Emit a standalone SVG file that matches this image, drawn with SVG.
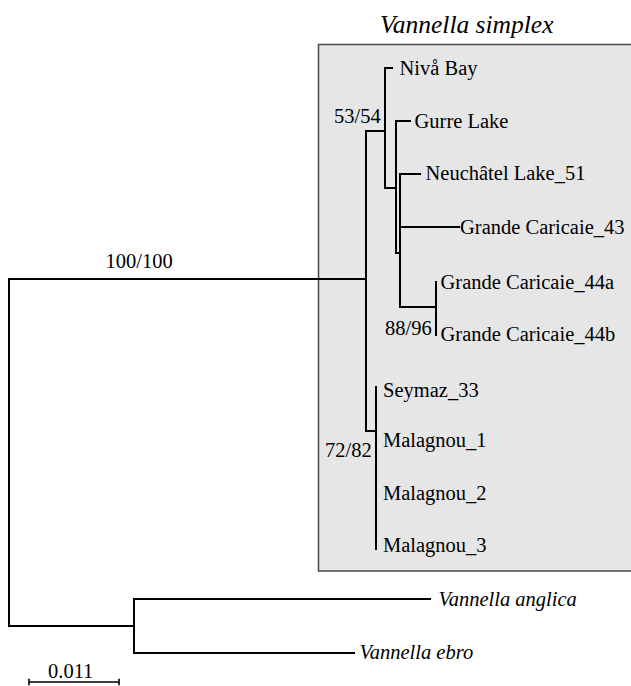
<svg xmlns="http://www.w3.org/2000/svg" width="631" height="686" viewBox="0 0 631 686">
<style>
.t{font-family:"Liberation Serif","Times New Roman",serif;font-size:20.5px;fill:#000}
.i{font-style:italic}
.e{stroke:#000;stroke-width:2;fill:none;stroke-linecap:square}
</style>
<rect width="631" height="686" fill="#fff"/>
<g id="clade-box">
<rect x="318.5" y="44.5" width="320" height="526.5" fill="#e6e6e6" stroke="#4a4a4a" stroke-width="1.5"/>
<text class="t i" x="380" y="33" style="font-size:25.5px">Vannella simplex</text>
</g>
<g id="connectors">
<path class="e" d="M366,279 H9 V626 H134"/>
<path class="e" d="M430,599 H134 V653 H354"/>
<path class="e" d="M384,131 H366 V431 H376"/>
<path class="e" d="M392,68 H385 V188 H396"/>
<path class="e" d="M410,121 H396 V253 H400"/>
<path class="e" d="M420,174 H400 V307 H436"/>
<path class="e" d="M400,227 H459"/>
<path class="e" d="M436,282 V335"/>
<path class="e" d="M376,387 V549"/>
<path class="e" d="M29,682 H119 M29,679.5 V684.5 M119,679.5 V684.5" style="stroke-width:1.6"/>
</g>
<g id="support-labels">
<text class="t" x="105.5" y="268">100/100</text>
<text class="t" x="334" y="123">53/54</text>
<text class="t" x="385" y="335">88/96</text>
<text class="t" x="325" y="457">72/82</text>
</g>
<g id="leaf-niva"><text class="t" x="399.5" y="75">Nivå Bay</text></g>
<g id="leaf-gurre"><text class="t" x="414.5" y="127.5">Gurre Lake</text></g>
<g id="leaf-neuchatel"><text class="t" x="425.5" y="180">Neuchâtel Lake_51</text></g>
<g id="leaf-gc43"><text class="t" x="460" y="234">Grande Caricaie_43</text></g>
<g id="leaf-gc44a"><text class="t" x="440.5" y="289">Grande Caricaie_44a</text></g>
<g id="leaf-gc44b"><text class="t" x="440.5" y="341">Grande Caricaie_44b</text></g>
<g id="leaf-seymaz"><text class="t" x="383" y="396.5">Seymaz_33</text></g>
<g id="leaf-malagnou1"><text class="t" x="383" y="447">Malagnou_1</text></g>
<g id="leaf-malagnou2"><text class="t" x="383" y="500">Malagnou_2</text></g>
<g id="leaf-malagnou3"><text class="t" x="383" y="552">Malagnou_3</text></g>
<g id="leaf-anglica"><text class="t i" x="438.5" y="605.5">Vannella anglica</text></g>
<g id="leaf-ebro"><text class="t i" x="359.5" y="659">Vannella ebro</text></g>
<g id="scale"><text class="t" x="48" y="678">0.011</text></g>
</svg>
